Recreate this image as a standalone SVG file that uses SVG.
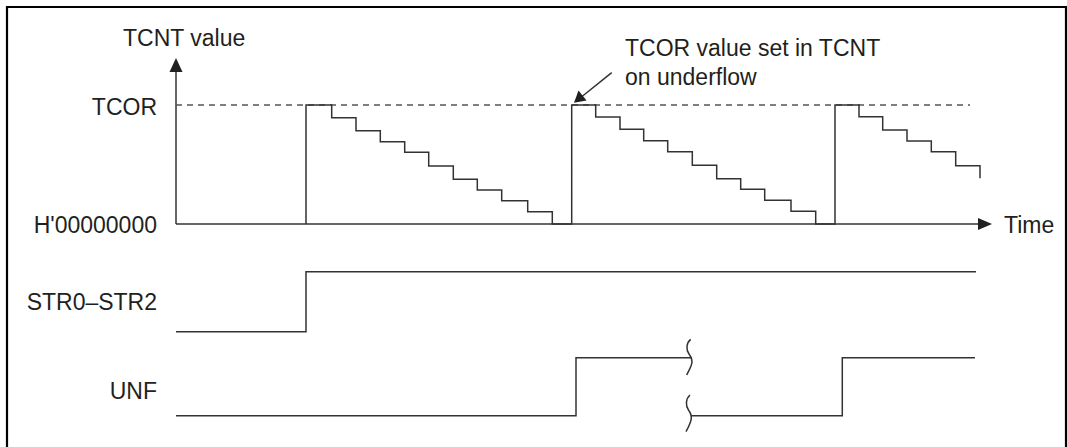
<svg xmlns="http://www.w3.org/2000/svg" width="1067" height="447" viewBox="0 0 1067 447">
<style>
text{font-family:"Liberation Sans",Arial,sans-serif;font-size:23px;fill:#231f20}
.ln{fill:none;stroke:#333;stroke-width:1.5}
.dash{fill:none;stroke:#555;stroke-width:1.3;stroke-dasharray:6 5}
.ah{fill:#231f20}
</style>
<rect width="1067" height="447" fill="#fff"/>
<path id="frame" d="M7,447 V7 H1066 V447" fill="none" stroke="#000" stroke-width="2.2"/>
<g id="labels">
<text x="123" y="46">TCNT value</text>
<text x="157" y="115" text-anchor="end">TCOR</text>
<text x="157" y="233" text-anchor="end">H'00000000</text>
<text x="1004" y="233">Time</text>
<text x="157" y="310" text-anchor="end">STR0–STR2</text>
<text x="157" y="399" text-anchor="end">UNF</text>
<text x="625" y="56">TCOR value set in TCNT</text>
<text x="625" y="85">on underflow</text>
</g>
<g id="axes">
<path class="ln" d="M176,224 V70"/>
<polygon class="ah" points="176,58 169.5,72 182.5,72"/>
<path class="ln" d="M176,224 H980"/>
<polygon class="ah" points="992,224 978,218 978,230"/>
<path class="dash" d="M176,105 H970"/>
</g>
<g id="tcnt">
<path class="ln" d="M306,224 V105 H331.7 V117.7 H356 V130.7 H380.3 V141.7 H404.7 V152.3 H428.7 V166 H453.3 V179.3 H477.3 V190 H501.7 V200.7 H527.7 V211.7 H552.3 V224 H571.7 V105 H595.7 V117 H620 V129.3 H643.7 V140.7 H667.7 V151.7 H692.3 V165.3 H716.7 V178.7 H740.7 V189.3 H764.7 V200.3 H791 V211.3 H815.7 V224 H835 V105 H859 V116.7 H882.7 V130 H907 V141 H931.3 V151.7 H955.7 V165.7 H980 V178.3"/>
</g>
<g id="connectors">
<path class="ln" d="M611.7,72.7 L582,96.5"/>
<polygon class="ah" points="574,102.7 578.5,90.5 586.5,100.5"/>
</g>
<g id="str">
<path class="ln" d="M176,331.7 H306 V271.7 H976"/>
</g>
<g id="unf">
<path class="ln" d="M176,415.7 H576 V357.7 H692"/>
<path class="ln" d="M690.7,339.3 C686,343 686,350 689,354 C692,358 693,362 691,366 C689.5,370 688,372 686.7,375"/>
<path class="ln" d="M690,395 C685.5,399 685.5,406 688.5,410 C691.5,414 692,418 690.5,422 C689,426 687.5,429 686,431.7"/>
<path class="ln" d="M691,415.7 H842.3 V357.7 H975"/>
</g>
</svg>
